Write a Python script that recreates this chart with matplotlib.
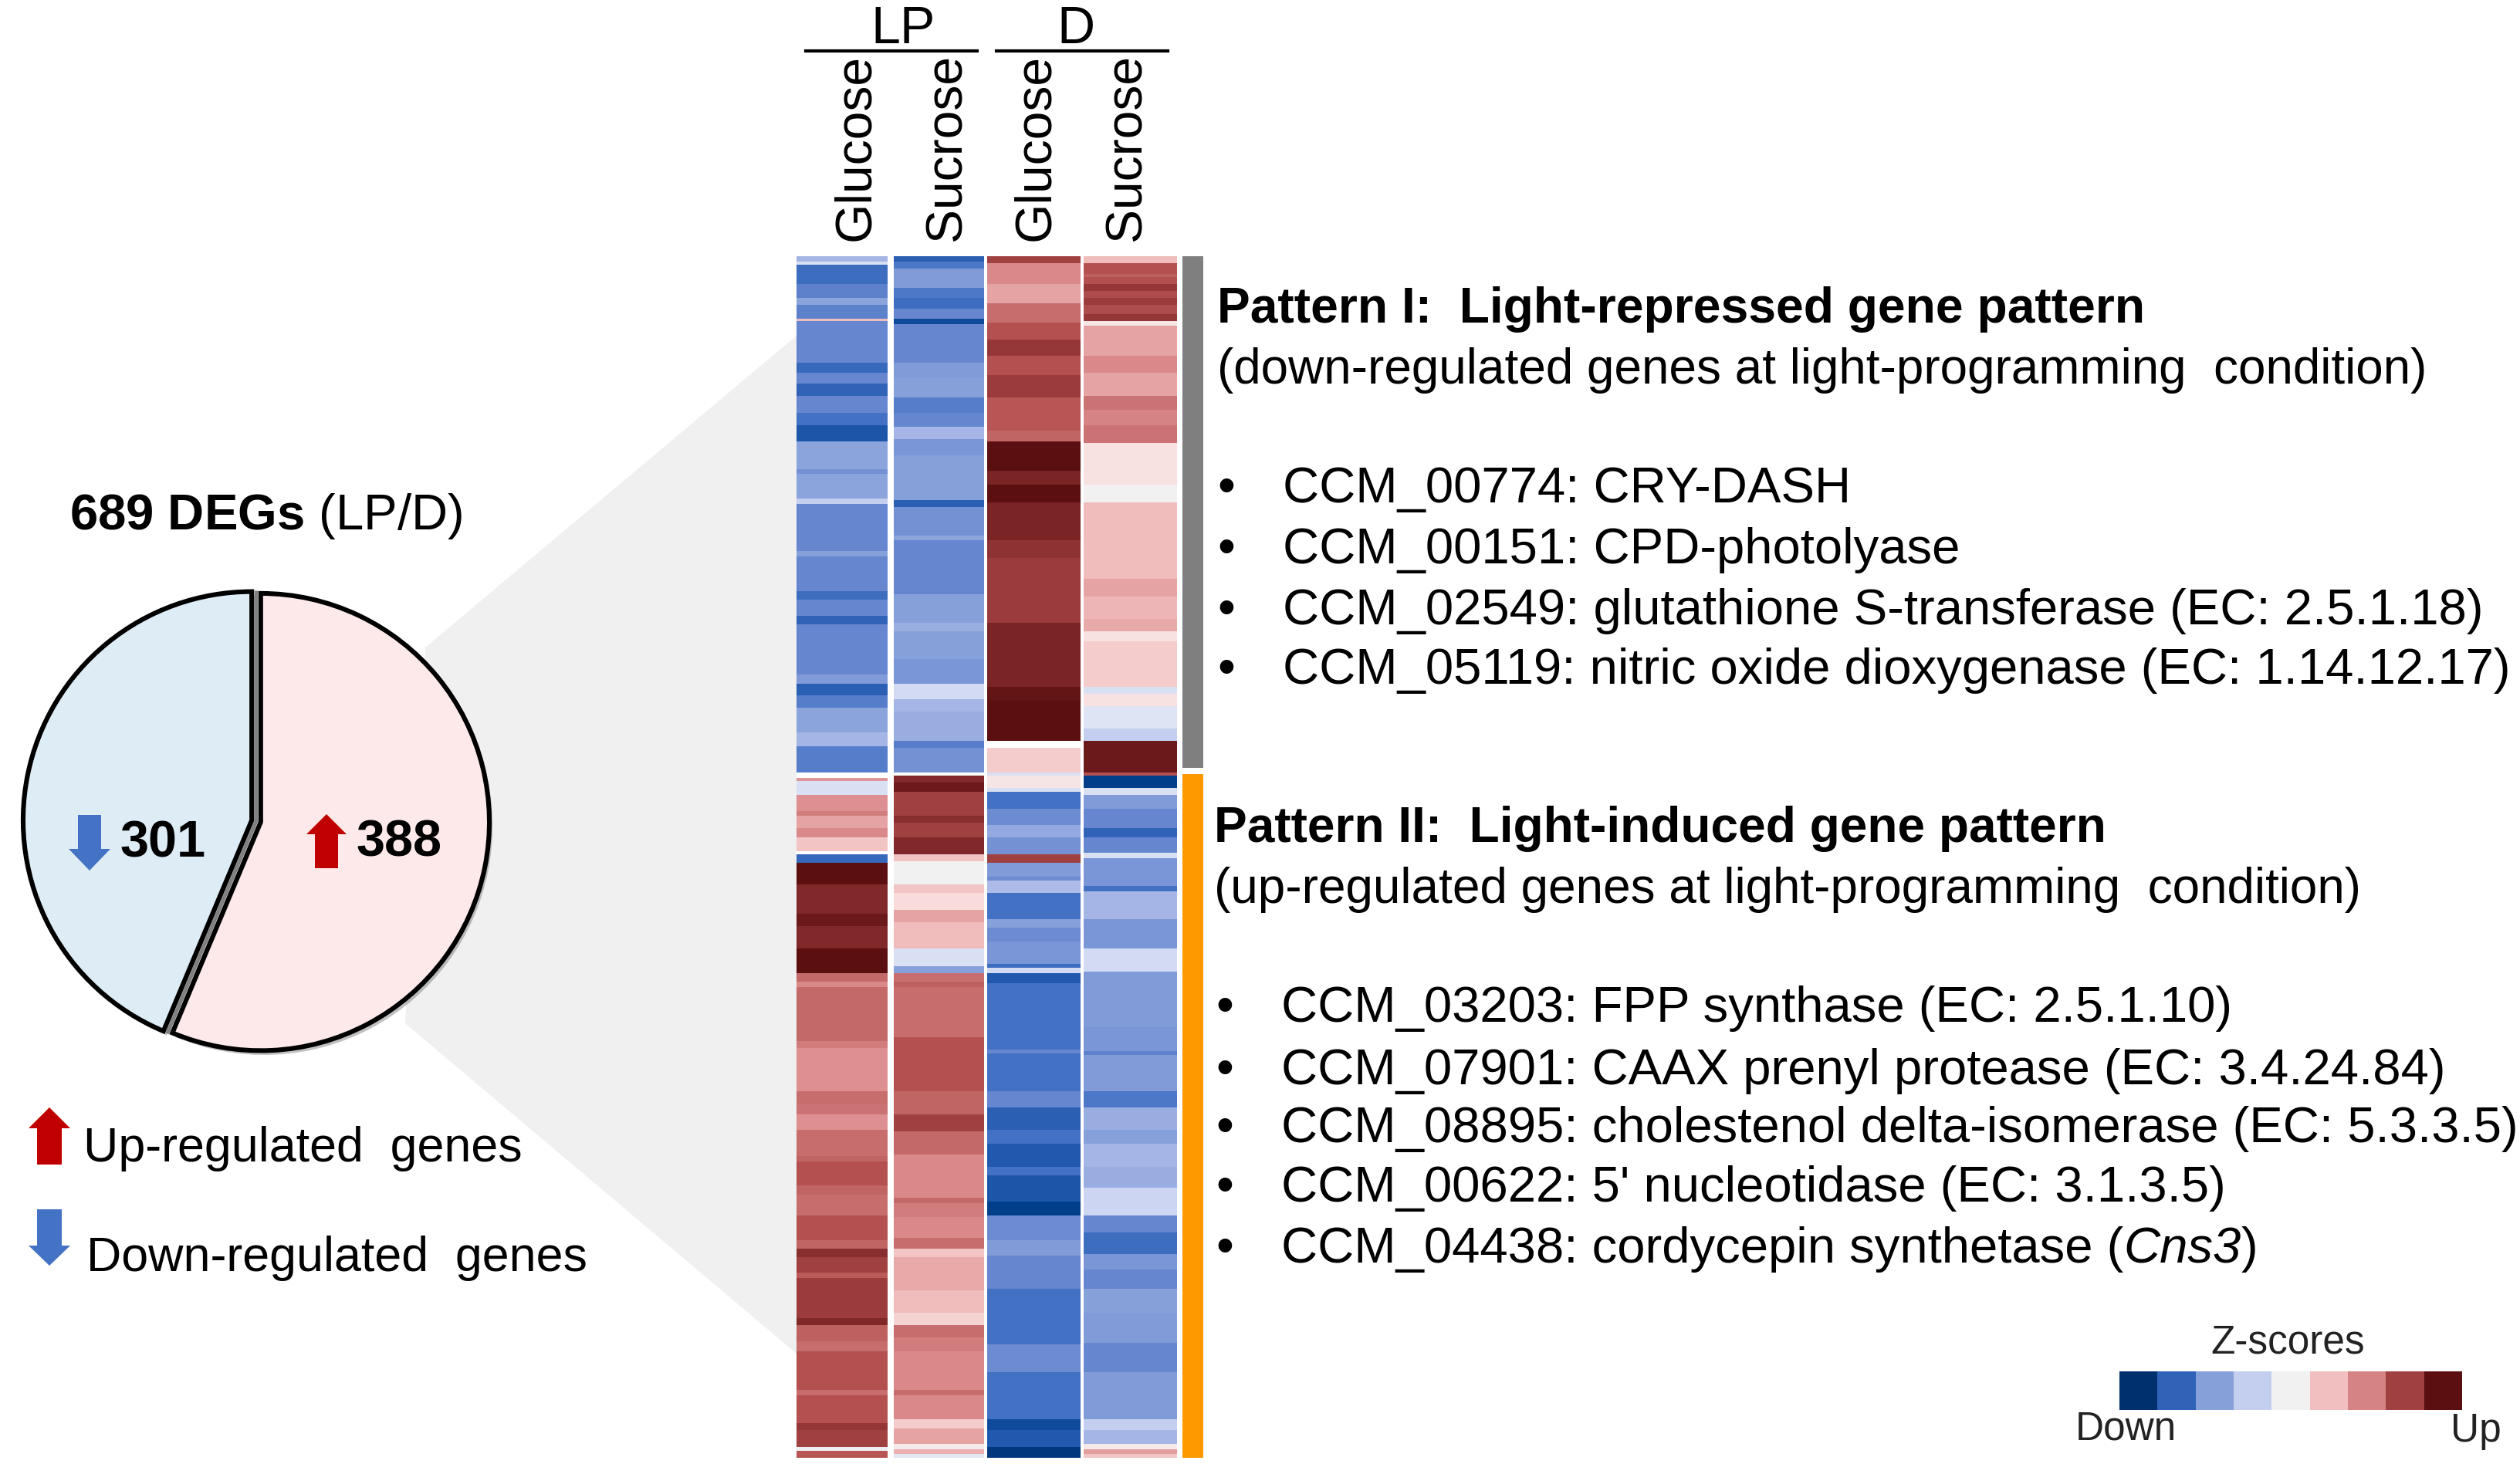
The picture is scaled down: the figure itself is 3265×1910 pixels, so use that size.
import numpy as np
import matplotlib
matplotlib.use('Agg')
import matplotlib.pyplot as plt
import matplotlib.patheffects as pe
from matplotlib.colors import LinearSegmentedColormap, Normalize
from matplotlib.patches import Polygon, Rectangle

plt.rcParams['font.family'] = ['Liberation Sans', 'DejaVu Sans']
plt.rcParams['mathtext.fontset'] = 'custom'
plt.rcParams['mathtext.rm'] = 'Liberation Sans'
plt.rcParams['mathtext.it'] = 'Liberation Sans:italic'
plt.rcParams['mathtext.bf'] = 'Liberation Sans:bold'

W, H = 3266, 1910
N = np.nan

# pie
deg_counts = [388, 301]
deg_colors = ['#fde9e9', '#deecf6']

# heatmap runs: (last gene row of the run, z-score), NaN is a white gap
lp_glucose = [
    (3, -1.2), (5, -.5), (16, -2.7), (24, -2.3), (28, -1.6), (36, -2.3), (37, .9), (61, -2.2),
    (67, -2.8), (73, -2.2), (80, -2.9), (90, -2.2), (97, -2.6), (106, -3.2), (122, -1.6), (125, -2),
    (139, -1.6), (142, -.8), (169, -2.2), (172, -1.7), (192, -2.2), (197, -2.7), (206, -2.2), (211, -2.9),
    (240, -2.2), (245, -1.8), (252, -3), (259, -2.4), (273, -1.6), (281, -1.2), (296, -2.4), (299, N),
    (301, 1.5), (309, -.5), (318, 1.6), (321, 1.9), (328, 1.3), (333, 1.7), (341, .8), (343, N),
    (348, -2.8), (360, 4), (364, 3.5), (377, 3.5), (384, 3.8), (397, 3.5), (411, 4), (416, 2.2),
    (419, 1.7), (450, 2.2), (454, 1.9), (479, 1.6), (486, 2.1), (492, 2.0), (501, 1.6), (516, 2.1),
    (519, 2.3), (533, 2.7), (538, 2.3), (550, 2.1), (564, 2.7), (569, 2.3), (574, 3.4), (583, 3),
    (586, 2.5), (609, 3.1), (613, 3.5), (622, 2.4), (628, 2.1), (650, 2.7), (653, 2.1), (669, 2.7),
    (673, 3.2), (683, 3), (685, -.1), (689, 2.6),
]
lp_sucrose = [
    (3, -3), (7, -2.5), (18, -1.8), (24, -2.5), (30, -2.7), (36, -2.2), (39, -3.5), (61, -2.2),
    (70, -1.8), (81, -1.7), (90, -2.4), (98, -2.2), (105, -1.2), (114, -1.9), (140, -1.7), (144, -3),
    (160, -2), (163, -1.6), (194, -2.2), (210, -1.7), (215, -1.4), (231, -1.7), (245, -1.9), (254, -.6),
    (261, -1.2), (278, -1.4), (282, -2.4), (296, -2), (298, N), (302, 3.5), (307, 3.8), (321, 3),
    (325, 3.4), (333, 3), (343, 3.5), (347, .8), (360, 0), (365, .8), (375, .5), (382, 1.3),
    (397, .9), (407, -.5), (411, -1.7), (416, 2.1), (419, 2.4), (448, 2.1), (479, 2.7), (492, 2.3),
    (502, 3), (515, 2.2), (540, 1.7), (543, 2.2), (551, 1.9), (563, 1.7), (569, 2.1), (574, .8),
    (593, 1.2), (606, .9), (613, .6), (620, 2.1), (628, 1.9), (650, 1.7), (653, 2.1), (667, 1.7),
    (672, .7), (681, 1.3), (684, .2), (687, 1.1), (689, -.3),
]
d_glucose = [
    (4, 3), (16, 1.7), (27, 1.3), (38, 2.1), (48, 2.7), (57, 3.2), (68, 2.7), (81, 3.1),
    (100, 2.6), (106, 2.3), (123, 4), (131, 3.6), (141, 4), (163, 3.6), (173, 3.3), (210, 3.1),
    (247, 3.6), (255, 3.9), (278, 4), (282, N), (296, .7), (298, -.5), (305, .3), (307, -.5),
    (317, -2.6), (326, -2.1), (333, -1.5), (343, -2), (348, 3), (356, -1.8), (358, -2.1), (365, -1.1),
    (380, -2.6), (385, -1.7), (393, -2.1), (406, -1.9), (408, -2.7), (411, -.6), (417, -3.1), (455, -2.6),
    (457, -2.2), (479, -2.6), (488, -2.2), (501, -3), (509, -2.6), (522, -3.1), (527, -2.6), (542, -3.2),
    (550, -3.8), (564, -2.1), (573, -1.8), (592, -2.2), (624, -2.6), (640, -2.1), (667, -2.6), (673, -3.5),
    (683, -3.1), (689, -3.9),
]
d_sucrose = [
    (4, .9), (10, 2.7), (12, 2.4), (16, 2.7), (20, 3.2), (24, 2.8), (28, 3.1), (33, 2.8),
    (37, 3.2), (40, .3), (57, 1.3), (67, 1.7), (80, 1.3),
    (88, 2), (97, 1.8), (107, 2), (131, .4), (141, 0), (185, .9), (195, 1.3), (208, 1),
    (215, 1.2), (221, .4), (247, .7), (251, -.5), (258, .4), (271, -.4), (278, -.8), (296, 3.8),
    (298, 2.7), (305, -3.8), (309, -.5), (317, -1.8), (328, -2.2), (333, -2.9), (342, -2.2), (345, -.5),
    (361, -1.9), (364, -2.6), (380, -1.2), (397, -1.9), (410, -.6), (442, -1.8), (456, -1.9), (458, -2.3),
    (479, -1.8), (488, -2.5), (501, -1.4), (509, -1.7), (522, -1.2), (534, -1.4), (550, -.7), (560, -2.2),
    (572, -2.7), (581, -1.9), (592, -2.2), (606, -1.7), (623, -1.8), (640, -2.2), (667, -1.8), (673, -.8),
    (681, -1.2), (684, .2), (687, 1.4), (689, .8),
]
heat_columns = [lp_glucose, lp_sucrose, d_glucose, d_sucrose]
column_labels = ['Glucose', 'Sucrose', 'Glucose', 'Sucrose']
zscore_levels = [-4, -2.9, -1.7, -.8, 0, .85, 1.8, 3, 4]

pattern_1 = ['CCM_00774: CRY-DASH', 'CCM_00151: CPD-photolyase',
             'CCM_02549: glutathione S-transferase (EC: 2.5.1.18)',
             'CCM_05119: nitric oxide dioxygenase (EC: 1.14.12.17)']
pattern_2 = ['CCM_03203: FPP synthase (EC: 2.5.1.10)',
             'CCM_07901: CAAX prenyl protease (EC: 3.4.24.84)',
             'CCM_08895: cholestenol delta-isomerase (EC: 5.3.3.5)',
             "CCM_00622: 5' nucleotidase (EC: 3.1.3.5)"]

cmap = LinearSegmentedColormap.from_list('z', [
    (0.0, '#01306f'), (.025, '#01408c'), (.11, '#2259ae'), (.175, '#4472c4'), (.225, '#6787cf'),
    (.2875, '#87a0da'), (.35, '#a5b5e5'), (.425, '#d4dcf4'), (.5, '#f2f2f2'), (.5625, '#f9dcdc'),
    (.6125, '#f0bcbc'), (.6625, '#e6a3a3'), (.7125, '#da8a8c'), (.7625, '#c86e6e'), (.8375, '#b55151'),
    (.8875, '#9c3c3e'), (.95, '#7c2527'), (1.0, '#5b0f10')])
norm = Normalize(-4, 4)


def px_axes(fig, x0, y0, x1, y1, **kw):
    return fig.add_axes([x0 / W, 1 - y1 / H, (x1 - x0) / W, (y1 - y0) / H], **kw)


def arrow(ax, x0, x1, y_tip, y_neck, y_end, half_shaft, color):
    xc = (x0 + x1) / 2
    ax.add_patch(Polygon([(xc, y_tip), (x1, y_neck), (xc + half_shaft, y_neck), (xc + half_shaft, y_end),
                          (xc - half_shaft, y_end), (xc - half_shaft, y_neck), (x0, y_neck)],
                         fc=color, ec='none'))


fig = plt.figure(figsize=(W / 100, H / 100), dpi=100)

# grey fan between pie and heatmap
back = px_axes(fig, 0, 0, W, H, zorder=0)
back.set_xlim(0, W)
back.set_ylim(H, 0)
back.axis('off')
back.add_patch(Polygon([(551, 839), (1032, 435), (1032, 1754), (525, 1326)], fc='#f0f0f0', ec='none'))

# pie
ax = px_axes(fig, 332 - 314, 1064 - 314, 332 + 314, 1064 + 314, zorder=1)
wedges, _ = ax.pie(deg_counts, colors=deg_colors, startangle=90, counterclock=False, explode=[.02, .02],
                   wedgeprops=dict(edgecolor='black', linewidth=4.4))
for w in wedges:
    w.set_path_effects([pe.SimplePatchShadow(offset=(3, -4), shadow_rgbFace='#777777', alpha=.45), pe.Normal()])
ax.set_xlim(-1.06, 1.06)
ax.set_ylim(-1.06, 1.06)
# grey seam between the two slices
split = np.pi / 2 - 2 * np.pi * deg_counts[0] / sum(deg_counts)
ax.plot([0, 0, np.cos(split)], [1, 0, np.sin(split)], color='#808080', lw=3.4, solid_joinstyle='miter')

# heatmap columns
col_x = [(1032, 1150), (1158, 1275), (1279, 1400), (1404, 1525)]
for (x0, x1), runs in zip(col_x, heat_columns):
    ax = px_axes(fig, x0, 332, x1, 1889, zorder=1)
    ends = [r[0] for r in runs]
    z = np.array([r[1] for r in runs])[:, None]
    ax.pcolormesh([0, 1], [0] + ends, np.ma.masked_invalid(z), cmap=cmap, norm=norm)
    ax.set_ylim(689, 0)
    ax.axis('off')

# z-score key
ax = px_axes(fig, 2746, 1777, 3190, 1827, zorder=1)
ax.pcolormesh(np.array(zscore_levels)[None, :], cmap=cmap, norm=norm)
ax.axis('off')

# everything written on top
top = px_axes(fig, 0, 0, W, H, zorder=5)
top.set_xlim(0, W)
top.set_ylim(H, 0)
top.axis('off')
top.patch.set_alpha(0)

top.add_patch(Rectangle((1532, 332), 27, 663, fc='#7f7f7f', ec='none'))
top.add_patch(Rectangle((1532, 1003), 27, 886, fc='#ff9900', ec='none'))

FS = 47
top.text(90, 669, r'$\mathbf{689\ DEGs}$ (LP/D)', fontsize=47, va='center')
top.text(156, 1093, '301', fontsize=48, fontweight='bold', va='center')
top.text(462, 1092, '388', fontsize=48, fontweight='bold', va='center')
arrow(top, 397, 449, 1055, 1081, 1125, 15, '#c00000')
arrow(top, 89, 143, 1128, 1100, 1056, 15, '#4472c4')
arrow(top, 37, 91, 1435, 1462, 1509, 16, '#c00000')
arrow(top, 37, 91, 1640, 1614, 1567, 16, '#4472c4')
top.text(108, 1488, 'Up-regulated  genes', fontsize=45.2, va='center')
top.text(112, 1630, 'Down-regulated  genes', fontsize=45.2, va='center')

top.text(1170, 38, 'LP', fontsize=49, ha='center', va='center')
top.text(1394, 38, 'D', fontsize=49, ha='center', va='center')
top.plot([1044, 1266], [66, 66], color='black', lw=3)
top.plot([1291, 1513], [66, 66], color='black', lw=3)
for x, label in zip([1109, 1228, 1342, 1461], column_labels):
    top.text(x, 312, label, fontsize=47.5, rotation=90, ha='center', va='bottom')

top.text(1577, 401, 'Pattern I:  Light-repressed gene pattern', fontsize=46.2, fontweight='bold', va='center')
top.text(1577, 480, '(down-regulated genes at light-programming  condition)', fontsize=46, va='center')
for y, label in zip([634, 713, 792, 869], pattern_1):
    top.text(1577, y, '\u2022', fontsize=FS, va='center')
    top.text(1662, y, label, fontsize=FS, va='center')

top.text(1573, 1074, 'Pattern II:  Light-induced gene pattern', fontsize=46.1, fontweight='bold', va='center')
top.text(1573, 1153, '(up-regulated genes at light-programming  condition)', fontsize=46, va='center')
for y, label in zip([1307, 1388, 1463, 1540], pattern_2):
    top.text(1575, y, '\u2022', fontsize=FS, va='center')
    top.text(1660, y, label, fontsize=FS, va='center')

# last gene line has an italic name, laid out piece by piece
top.text(1575, 1619, '\u2022', fontsize=FS, va='center')
renderer = fig.canvas.get_renderer()
x_next = 1660
for piece, style in [('CCM_04438: cordycepin synthetase (', 'normal'), ('Cns3', 'italic'), (')', 'normal')]:
    t = top.text(x_next, 1636, piece, fontsize=FS, style=style, va='baseline')
    x_next = t.get_window_extent(renderer).x1

top.text(2964, 1740, 'Z-scores', fontsize=37, ha='center', va='center', color='#222222')
top.text(2754, 1852, 'Down', fontsize=37, ha='center', va='center', color='#222222')
top.text(3208, 1854, 'Up', fontsize=37, ha='center', va='center', color='#222222')

fig.savefig('out.png', dpi=100)
